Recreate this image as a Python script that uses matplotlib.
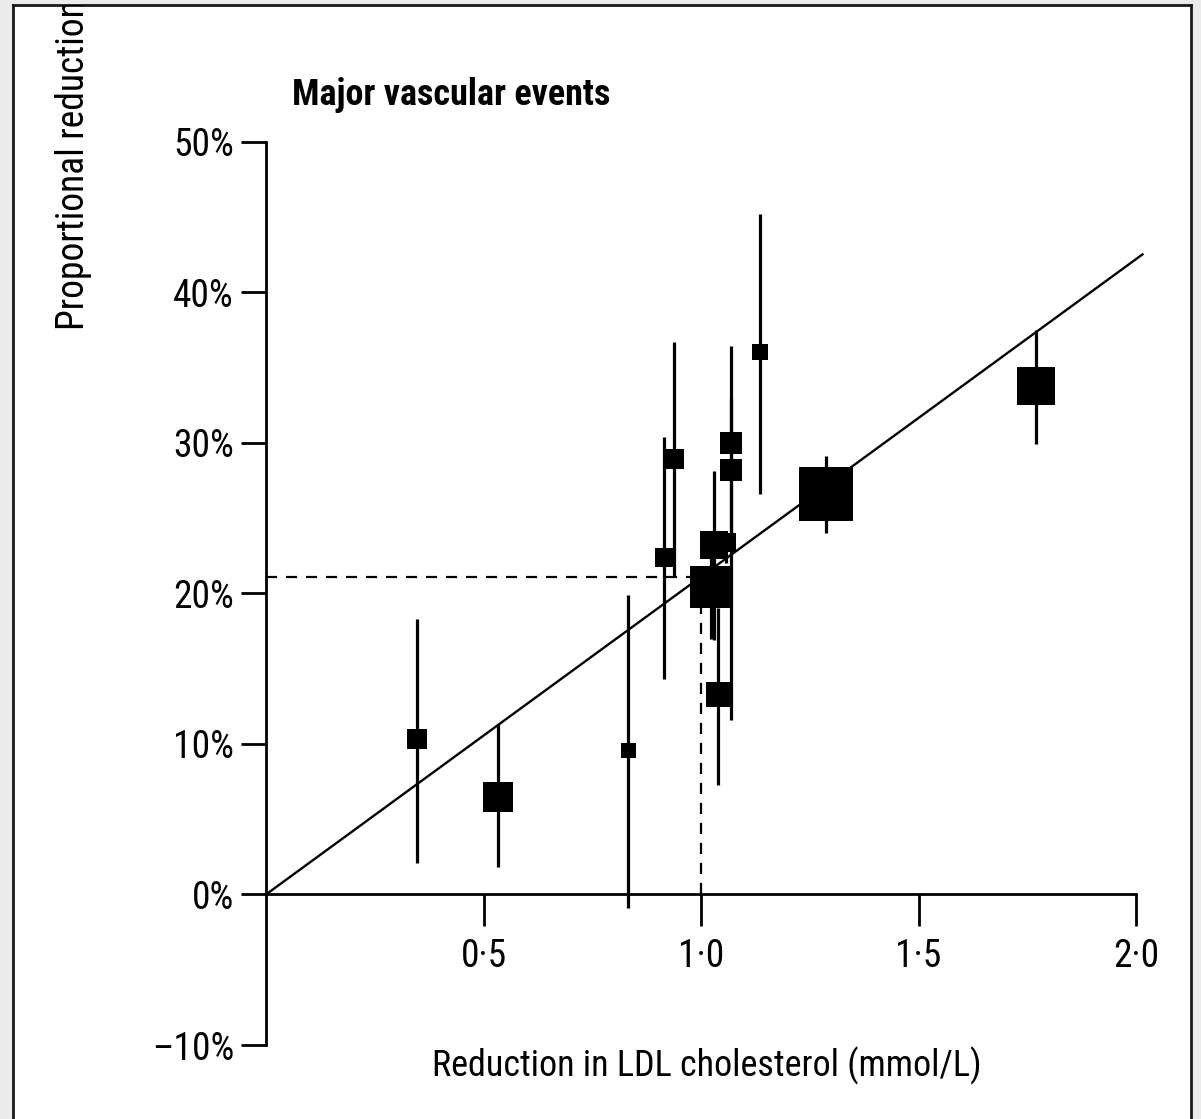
import matplotlib
matplotlib.use("Agg")
import matplotlib.pyplot as plt
import matplotlib.font_manager as fm
import numpy as np

# ---------------- data ----------------
ldl_reduction = [0.348, 0.533, 0.833, 0.914, 0.937, 1.030, 1.057, 1.024,
                 1.068, 1.068, 1.038, 1.135, 1.287, 1.771]
prop_reduction = [10.3, 6.5, 9.6, 22.4, 28.9, 23.2, 23.4, 20.4,
                  30.0, 28.2, 13.3, 36.0, 26.6, 33.8]
ci_low = [2.1, 1.8, -0.9, 14.3, 21.1, 16.9, 22.0, 17.0,
          24.0, 11.6, 7.3, 26.6, 24.0, 29.9]
ci_high = [18.3, 11.3, 19.9, 30.4, 36.7, 28.1, 24.0, 23.5,
           36.4, 33.0, 19.0, 45.2, 29.1, 37.5]

fit_slope = 21.1          # % reduction per 1 mmol/L
fit_x_range = [0.0, 2.015]
ref_ldl = 1.0             # dashed reference at 1 mmol/L

x_ticks = [0.5, 1.0, 1.5, 2.0]
x_tick_labels = ["0·5", "1·0", "1·5", "2·0"]
y_ticks = [-10, 0, 10, 20, 30, 40, 50]
y_tick_labels = ["–10%", "0%", "10%", "20%", "30%", "40%", "50%"]

title = "Major vascular events"
x_label = "Reduction in LDL cholesterol (mmol/L)"
y_label = "Proportional reduction in event rate (95% CI)"

# marker sizes (pixels) – style
marker_px = [20, 30, 15, 19, 20, 28, 19, 42, 22, 22, 25, 16, 54, 38]

# ---------------- fonts ----------------
names = {f.name for f in fm.fontManager.ttflist}
font = "DejaVu Sans"
for cand in ["Liberation Sans Narrow", "Roboto Condensed", "Open Sans Condensed", "Lato"]:
    if cand in names:
        font = cand
        break
plt.rcParams["font.family"] = [font, "DejaVu Sans"]

W, H = 1201, 1119
DPI = 100
fig = plt.figure(figsize=(W / DPI, H / DPI), dpi=DPI)
fig.patch.set_facecolor("#ebebeb")

# white frame panel
fl, ft, fr = 13, 5, 1191
bg = fig.add_axes([fl / W, 0, (fr - fl) / W, (H - ft) / H], zorder=0)
bg.set_facecolor("white")
bg.set_xticks([]); bg.set_yticks([])
for s in ["left", "top", "right"]:
    bg.spines[s].set_linewidth(2.0)
    bg.spines[s].set_color("#1a1a1a")
bg.spines["bottom"].set_visible(False)
bg.set_xlim(0, 1); bg.set_ylim(0, 1)

# y label, clipped by the frame as in the reference
bg.text((73 - fl) / (fr - fl), (H - 330) / (H - ft), y_label, rotation=90,
        ha="center", va="bottom", fontsize=27, clip_on=True, color="black")

# main axes
ax_l, ax_r = 266, 1136
ax_top, ax_bot = 141.7, 1045
ax = fig.add_axes([ax_l / W, (H - ax_bot) / H, (ax_r - ax_l) / W, (ax_bot - ax_top) / H], zorder=1)
ax.set_facecolor("none")
ax.set_xlim(0, 2.0)
ax.set_ylim(-10, 50)

for s in ["top", "right"]:
    ax.spines[s].set_visible(False)
ax.spines["left"].set_linewidth(2.0)
ax.spines["bottom"].set_linewidth(2.0)
ax.spines["bottom"].set_position(("data", 0))

ax.set_xticks(x_ticks)
ax.set_xticklabels(x_tick_labels, fontsize=27)
ax.set_yticks(y_ticks)
ax.set_yticklabels(y_tick_labels, fontsize=27)
ax.tick_params(axis="x", direction="out", length=23, width=2.0, pad=8)
ax.tick_params(axis="y", direction="out", length=18, width=2.0, pad=5)

# fitted line
xs = np.array(fit_x_range)
ax.plot(xs, fit_slope * xs, color="black", lw=1.7, zorder=2, clip_on=False)

# dashed reference lines
ref_y = fit_slope * ref_ldl
ax.plot([0, ref_ldl], [ref_y, ref_y], color="black", lw=1.6, ls=(0, (5, 4)), zorder=2)
ax.plot([ref_ldl, ref_ldl], [0, ref_y], color="black", lw=1.6, ls=(0, (5, 4)), zorder=2)

# studies
for x, y, lo, hi, px in zip(ldl_reduction, prop_reduction, ci_low, ci_high, marker_px):
    ax.errorbar([x], [y], yerr=[[y - lo], [hi - y]], fmt="s", color="black",
                ms=px * 72 / DPI, mew=0, elinewidth=2.3, capsize=0, zorder=3,
                clip_on=False)

ax.text((292 - ax_l) / (ax_r - ax_l), (ax_bot - 95) / (ax_bot - ax_top), title,
        transform=ax.transAxes, ha="left", va="center", fontsize=26, fontweight="bold")
ax.set_xlabel(x_label, fontsize=26, va="center")
ax.xaxis.set_label_coords((707 - ax_l) / (ax_r - ax_l), (ax_bot - 1066) / (ax_bot - ax_top))

fig.savefig("out.png", dpi=DPI, facecolor=fig.get_facecolor())
